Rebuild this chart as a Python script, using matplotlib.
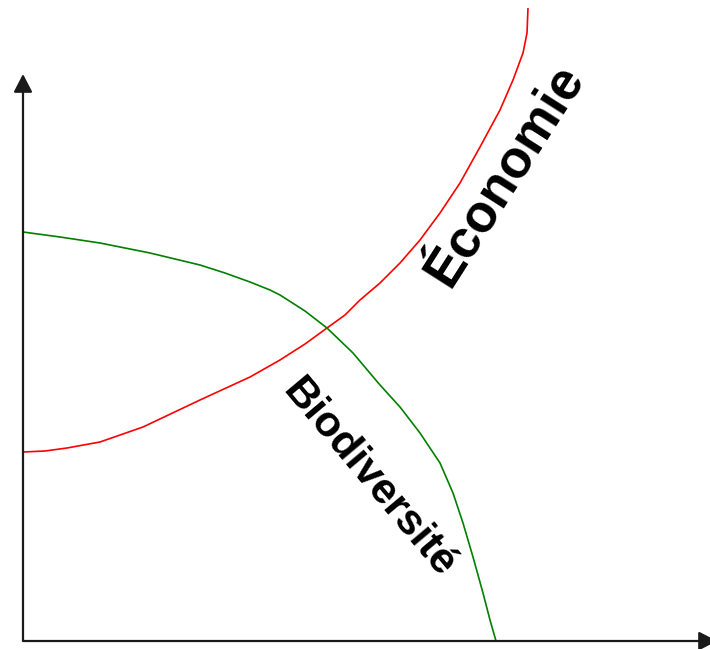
import matplotlib
matplotlib.use("Agg")
import matplotlib.pyplot as plt


# values (axis units = pixels from the origin)
economie_x = [0, 22, 44, 77, 120, 177, 227, 257, 282, 304, 322, 337, 357, 377, 397, 417, 437, 457, 477, 490, 500, 504, 505]
economie_y = [189, 190, 193, 199, 214, 241, 264, 281, 297, 313, 326, 341, 358, 378, 401, 428, 458, 494, 531, 561, 588, 608, 633]

biodiv_x = [0, 37, 77, 127, 177, 202, 227, 247, 257, 282, 304, 330, 357, 377, 397, 417, 430, 440, 450, 460, 467, 473]
biodiv_y = [409, 404, 398, 388, 376, 368, 359, 351, 346, 330, 313, 288, 256, 234, 208, 178, 148, 118, 84, 48, 21, 0]

labels = ["Économie", "Biodiversité"]


def main():

    plt.rcParams["font.family"] = ["Liberation Sans", "DejaVu Sans"]

    fig = plt.figure(figsize=(7.10, 6.49), dpi=100)

    ax = fig.add_axes([23 / 710, 8 / 649, 687 / 710, 641 / 649])
    ax.set_xlim(0, 687)
    ax.set_ylim(0, 641)
    ax.axis("off")

    ax.plot(economie_x, economie_y, color="#ff0000", lw=1.2,
            solid_joinstyle="round", solid_capstyle="butt")
    ax.plot(biodiv_x, biodiv_y, color="#008000", lw=1.2,
            solid_joinstyle="round", solid_capstyle="butt")

    arrow = dict(
        arrowstyle="-|>,head_length=0.58,head_width=0.3",
        mutation_scale=19,
        lw=1.6,
        color="#1a1a1a",
        shrinkA=0,
        shrinkB=0,
    )

    ax.annotate("", xy=(0, 567), xytext=(0, 0), arrowprops=arrow, annotation_clip=False)
    ax.annotate("", xy=(694, 0), xytext=(0, 0), arrowprops=arrow, annotation_clip=False)

    ax.text(482, 466, labels[0], rotation=57.5, fontsize=38, fontweight="bold",
            ha="center", va="center", rotation_mode="anchor")
    ax.text(345, 163, labels[1], rotation=-50, fontsize=31, fontweight="bold",
            ha="center", va="center", rotation_mode="anchor")

    fig.savefig("out.png", dpi=100)


if __name__ == "__main__":

    main()
